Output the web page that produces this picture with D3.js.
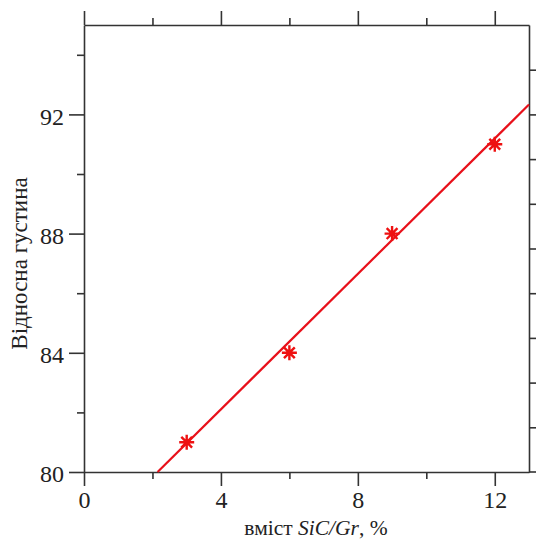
<!DOCTYPE html>
<html><head><meta charset="utf-8">
<script src="https://cdn.jsdelivr.net/npm/d3@7"></script>
<style>body{margin:0;background:#fff}svg{display:block}</style>
</head><body>
<script>
const contentX = [3, 6, 9, 12];
const density = [81, 84, 88, 91];
const fitX = [2.15, 13];
const fitY = [80, 92.33];
const xMajor = [0, 4, 8, 12];
const xMinor = [2, 6, 10];
const yMajor = [80, 84, 88, 92];
const yMinor = [82, 86, 90, 94];
const rightTicks = [1, 2, 3, 4, 5, 6, 7, 8, 9];
const xTitleA = "вміст ";
const xTitleB = "SiC/Gr";
const xTitleC = ", %";
const yTitle = "Відносна густина";

const W = 536, H = 540;
const L = 84, R = 529, T = 25, B = 472;
const FONT = '"Liberation Serif", "Times New Roman", serif';
const svg = d3.select("body").append("svg").attr("width", W).attr("height", H);
const x = d3.scaleLinear().domain([0, 13]).range([L, R]);
const y = d3.scaleLinear().domain([80, 95]).range([B, T]);
const yr = d3.scaleLinear().domain([0, 10]).range([B, T]);
const axisColor = "#333";

function styleAxis(g) {
  g.attr("font-family", null);
  g.selectAll("path,line").attr("stroke", axisColor).attr("stroke-width", 1.6);
  g.selectAll("text").style("font-family", FONT).style("font-size", "24px").attr("fill", "#222");
}

// bottom
const gb = svg.append("g").attr("transform", `translate(0,${B})`);
gb.call(d3.axisBottom(x).tickValues(xMajor).tickSize(14).tickSizeOuter(0).tickFormat(d3.format("d")));
gb.append("g").call(d3.axisBottom(x).tickValues(xMinor).tickSize(7).tickFormat("")).select(".domain").remove();
styleAxis(gb);
gb.selectAll(".tick text").attr("dy", null).attr("y", 36);
svg.append("line").attr("x1", R).attr("x2", W).attr("y1", B).attr("y2", B).attr("stroke", axisColor).attr("stroke-width", 1.6);

// top
const gt = svg.append("g").attr("transform", `translate(0,${T})`);
gt.call(d3.axisTop(x).tickValues(xMajor).tickSize(14).tickSizeOuter(0).tickFormat(""));
gt.append("g").call(d3.axisTop(x).tickValues(xMinor).tickSize(7).tickFormat("")).select(".domain").remove();
styleAxis(gt);

// left
const gl = svg.append("g").attr("transform", `translate(${L},0)`);
gl.call(d3.axisLeft(y).tickValues(yMajor).tickSize(15).tickSizeOuter(0).tickPadding(5).tickFormat(d3.format("d")));
gl.append("g").call(d3.axisLeft(y).tickValues(yMinor).tickSize(7).tickFormat("")).select(".domain").remove();
styleAxis(gl);
gl.selectAll(".tick text").attr("dy", "0.4em");

// right
const gr = svg.append("g").attr("transform", `translate(${R},0)`);
gr.call(d3.axisRight(yr).tickValues(rightTicks).tickSize(7).tickSizeOuter(0).tickFormat(""));
styleAxis(gr);

// fit line
svg.append("path")
  .datum(fitX.map((v, i) => [v, fitY[i]]))
  .attr("d", d3.line().x(d => x(d[0])).y(d => y(d[1])))
  .attr("fill", "none").attr("stroke", "#e8101a").attr("stroke-width", 2.2);

// star markers
const r = 7.5;
const star = `M0,${-r}L0,${r}M${-r},0L${r},0M${-r*0.72},${-r*0.72}L${r*0.72},${r*0.72}M${-r*0.72},${r*0.72}L${r*0.72},${-r*0.72}`;
svg.append("g").selectAll("path").data(contentX.map((v, i) => [v, density[i]])).join("path")
  .attr("transform", d => `translate(${x(d[0])},${y(d[1])})`)
  .attr("d", star).attr("fill", "none").attr("stroke", "#ee1111").attr("stroke-width", 2.4);

// titles
const xt = svg.append("text").attr("x", 316).attr("y", 535)
  .attr("text-anchor", "middle").style("font-family", FONT).style("font-size", "21.5px").attr("fill", "#222");
xt.append("tspan").text(xTitleA);
xt.append("tspan").style("font-style", "italic").text(xTitleB);
xt.append("tspan").text(xTitleC);

svg.append("text").attr("transform", `translate(27,${(T + B) / 2 + 15}) rotate(-90)`)
  .attr("text-anchor", "middle").style("font-family", FONT).style("font-size", "23px").attr("fill", "#222")
  .text(yTitle);
</script>
</body></html>
